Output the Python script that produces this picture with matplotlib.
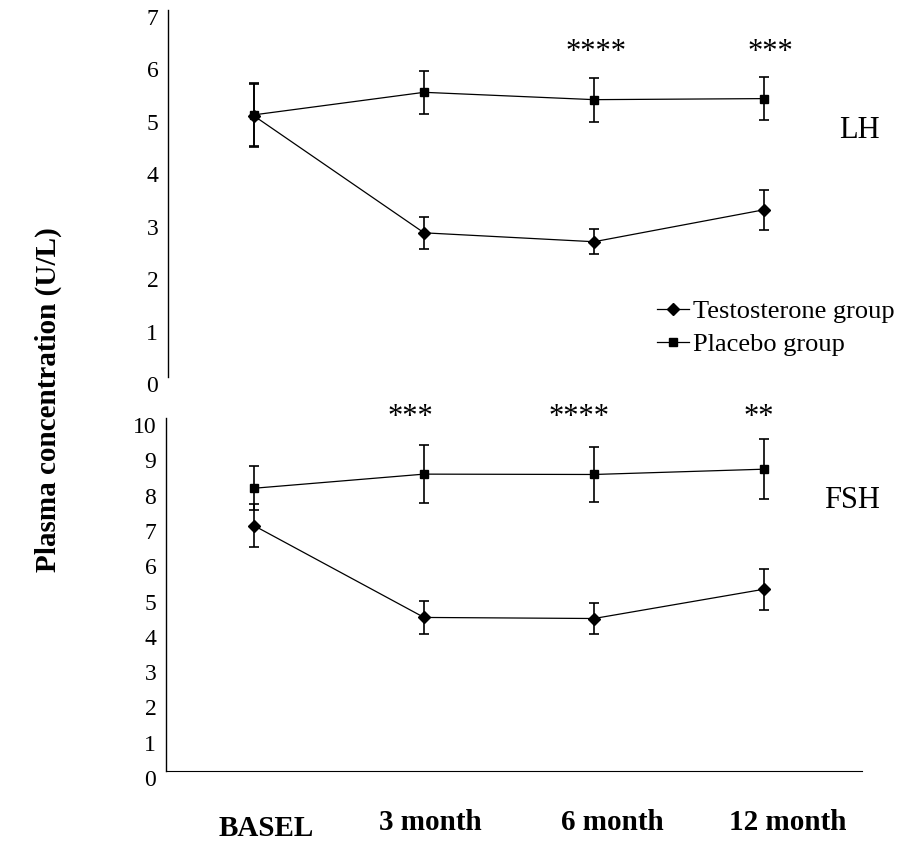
import matplotlib.pyplot as plt
from matplotlib.lines import Line2D
from matplotlib.transforms import ScaledTranslation

# data
times = ["BASEL", "3 month", "6 month", "12 month"]
x = [0, 1, 2, 3]

lh_testo = [4.98, 2.75, 2.58, 3.19]
lh_testo_err = [0.6, 0.31, 0.24, 0.38]
lh_plac = [5.0, 5.43, 5.29, 5.31]
lh_plac_err = [0.6, 0.41, 0.42, 0.41]

fsh_testo = [6.95, 4.35, 4.32, 5.15]
fsh_testo_err = [0.6, 0.48, 0.43, 0.58]
fsh_plac = [8.01, 8.41, 8.40, 8.55]
fsh_plac_err = [0.63, 0.82, 0.79, 0.85]

# significance marks (x position, text)
lh_stars_x = [2.01, 3.04]
lh_stars = ["****", "***"]
fsh_stars_x = [0.92, 1.91, 2.97]
fsh_stars = ["***", "****", "**"]

plt.rcParams['font.family'] = ['Liberation Serif', 'DejaVu Serif']

W, H = 898, 842
fig = plt.figure(figsize=(W / 100, H / 100), dpi=100)
ax1 = fig.add_axes([168 / W, 1 - 377 / H, 694 / W, 367 / H])
ax2 = fig.add_axes([166 / W, 1 - 771 / H, 696 / W, 353 / H])

style = dict(color='black', lw=0.9, elinewidth=1.2, capsize=3.5, capthick=1.2)


def draw(ax, testo, testo_err, plac, plac_err):
    ax.errorbar(x, plac, yerr=plac_err, marker='s', ms=5.5, **style)
    ax.errorbar(x, testo, yerr=testo_err, marker='D', ms=6, **style)


draw(ax1, lh_testo, lh_testo_err, lh_plac, lh_plac_err)
draw(ax2, fsh_testo, fsh_testo_err, fsh_plac, fsh_plac_err)

ax1.set_xlim(-0.506, 3.576)
ax1.set_ylim(0, 7)
ax2.set_xlim(-0.518, 3.576)
ax2.set_ylim(0, 10)

ax1.set_yticks(range(0, 8))
ax2.set_yticks(range(0, 11))
ax1.spines['bottom'].set_visible(False)
ax1.set_xticks([])

for ax in (ax1, ax2):
    ax.spines['top'].set_visible(False)
    ax.spines['right'].set_visible(False)
    ax.spines['left'].set_linewidth(1.0)
    ax.tick_params(axis='y', length=0, pad=7, labelsize=17)
    # labels sit a little below their grid value in the original
    down = ScaledTranslation(0, -7 / 100, fig.dpi_scale_trans)
    for lab in ax.get_yticklabels():
        lab.set_transform(lab.get_transform() + down)

ax2.set_xticks(x)
ax2.set_xticklabels(times, fontsize=21, fontweight='bold')
ax2.tick_params(axis='x', length=0, pad=27)
shifts = [(12, -6), (6, 0), (18, 0), (24, 0)]
for lab, (dx, dy) in zip(ax2.get_xticklabels(), shifts):
    lab.set_transform(lab.get_transform() + ScaledTranslation(dx / 100, dy / 100, fig.dpi_scale_trans))

for xs, s in zip(lh_stars_x, lh_stars):
    ax1.text(xs, 6.05, s, ha='center', va='baseline', fontsize=22, clip_on=False)
for xs, s in zip(fsh_stars_x, fsh_stars):
    ax2.text(xs, 9.8, s, ha='center', va='baseline', fontsize=22, clip_on=False)

ax1.text(3.68, 4.55, "LH", ha='right', va='baseline', fontsize=22, clip_on=False)
ax2.text(3.68, 7.45, "FSH", ha='right', va='baseline', fontsize=22, clip_on=False)

handles = [Line2D([], [], color='black', lw=0.9, marker='D', ms=6),
           Line2D([], [], color='black', lw=0.9, marker='s', ms=5.5)]
ax1.legend(handles, ["Testosterone group", "Placebo group"], loc='center left',
           bbox_to_anchor=(657 / W, 1 - 328 / H), bbox_transform=fig.transFigure,
           frameon=False, fontsize=19, borderpad=0, borderaxespad=0,
           handlelength=1.2, handletextpad=0.15, labelspacing=0.35)

fig.text(48 / W, 1 - 400 / H, "Plasma concentration (U/L)", rotation=90,
         ha='center', va='center', fontsize=21, fontweight='bold')

fig.savefig("out.png", dpi=100)
